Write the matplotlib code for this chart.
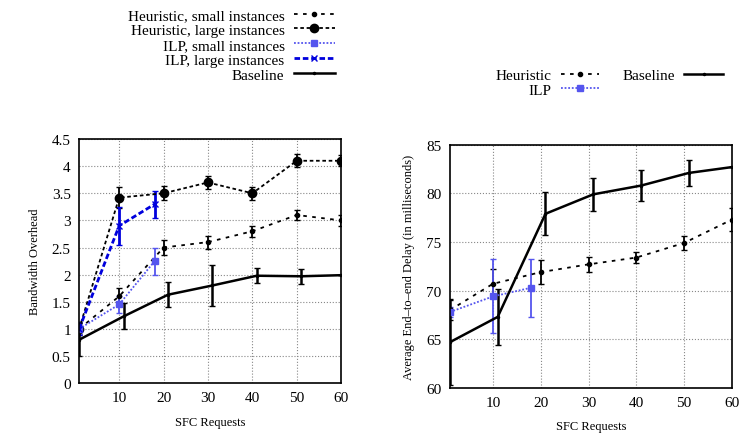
import matplotlib
matplotlib.use("Agg")
import matplotlib.pyplot as plt
from matplotlib.lines import Line2D

plt.rcParams['font.family'] = ['Liberation Serif', 'DejaVu Serif']

# --- bandwidth overhead (left) ---
bw_heur_x = [1, 10, 20, 30, 40, 50, 60]
bw_heur_small = [1.0, 1.6, 2.5, 2.6, 2.8, 3.1, 3.0]
bw_heur_small_err = [0.1, 0.15, 0.13, 0.12, 0.1, 0.1, 0.1]
bw_heur_large = [1.0, 3.42, 3.5, 3.7, 3.5, 4.1, 4.1]
bw_heur_large_err = [0.12, 0.2, 0.13, 0.12, 0.12, 0.12, 0.1]

bw_ilp_x = [1, 10, 18]
bw_ilp_small = [1.0, 1.45, 2.25]
bw_ilp_small_err = [0.1, 0.15, 0.25]
bw_ilp_large = [1.0, 2.9, 3.3]
bw_ilp_large_err = [0.12, 0.35, 0.25]

bw_base_x = [1, 11, 21, 31, 41, 51, 60]
bw_base = [0.8, 1.23, 1.63, 1.8, 1.98, 1.97, 1.99]
bw_base_err = [0.3, 0.24, 0.23, 0.37, 0.14, 0.14, 0.0]

# --- end-to-end delay (right) ---
d_heur_x = [1, 10, 20, 30, 40, 50, 60]
d_heur = [68.0, 70.7, 71.9, 72.7, 73.4, 74.9, 77.3]
d_heur_err = [1.0, 1.5, 1.2, 0.8, 0.6, 0.7, 1.2]

d_ilp_x = [1, 10, 18]
d_ilp = [67.8, 69.4, 70.3]
d_ilp_err = [0.5, 3.8, 3.0]

d_base_x = [1, 11, 21, 31, 41, 51, 60]
d_base = [64.7, 67.3, 77.9, 79.9, 80.8, 82.1, 82.7]
d_base_err = [4.4, 2.9, 2.2, 1.7, 1.6, 1.3, 0.0]

xticks = [10, 20, 30, 40, 50, 60]

fig = plt.figure(figsize=(7.4, 4.35), dpi=100)
ax1 = fig.add_axes([0.107, 0.117, 0.354, 0.561])
ax2 = fig.add_axes([0.608, 0.106, 0.381, 0.559])

blue = '#0000dd'
light_blue = '#5555ee'

# style for each series: (colour, linestyle, linewidth, marker, markersize)
st_hs = ('black', (0, (2, 3)), 1.3, 'o', 3)
st_hl = ('black', (0, (2, 1.5)), 1.3, 'o', 6)
st_is = (light_blue, (0, (1, 1)), 1.3, 's', 4)
st_il = (blue, (0, (2, 1)), 2, 'x', 5)
st_b = ('black', '-', 1.8, '.', 3)


def draw(ax, x, y, err, st):
    c, ls, lw, m, ms = st
    ax.errorbar(x, y, yerr=err, color=c, ls=ls, lw=lw, marker=m, ms=ms, capsize=2)


def proxy(st, label):
    c, ls, lw, m, ms = st
    return Line2D([], [], color=c, ls=ls, lw=lw, marker=m, ms=ms, label=label)


draw(ax1, bw_heur_x, bw_heur_small, bw_heur_small_err, st_hs)
draw(ax1, bw_heur_x, bw_heur_large, bw_heur_large_err, st_hl)
draw(ax1, bw_ilp_x, bw_ilp_small, bw_ilp_small_err, st_is)
draw(ax1, bw_ilp_x, bw_ilp_large, bw_ilp_large_err, st_il)
draw(ax1, bw_base_x, bw_base, bw_base_err, st_b)

ax1.set_xlim(1, 60)
ax1.set_ylim(0, 4.5)
ax1.set_xticks(xticks)
ax1.set_yticks([0, 0.5, 1, 1.5, 2, 2.5, 3, 3.5, 4, 4.5])
ax1.set_yticklabels(['0', '0.5', '1', '1.5', '2', '2.5', '3', '3.5', '4', '4.5'])
ax1.set_xlabel('SFC Requests', fontsize=9, labelpad=8)
ax1.set_ylabel('Bandwidth Overhead', fontsize=9, labelpad=8)

draw(ax2, d_heur_x, d_heur, d_heur_err, st_hs)
draw(ax2, d_ilp_x, d_ilp, d_ilp_err, st_is)
draw(ax2, d_base_x, d_base, d_base_err, st_b)

ax2.set_xlim(1, 60)
ax2.set_ylim(60, 85)
ax2.set_xticks(xticks)
ax2.set_yticks([60, 65, 70, 75, 80, 85])
ax2.set_xlabel('SFC Requests', fontsize=9, labelpad=8)
ax2.set_ylabel('Average End\u2013to\u2013end Delay (in milliseconds)', fontsize=9, labelpad=8)

for ax in (ax1, ax2):
    ax.grid(True, color='#888888', ls=':', lw=0.8)
    ax.tick_params(labelsize=11, length=0, pad=6)
    for s in ax.spines.values():
        s.set_linewidth(1.2)

left_handles = [proxy(st_hs, 'Heuristic, small instances'),
                proxy(st_hl, 'Heuristic, large instances'),
                proxy(st_is, 'ILP, small instances'),
                proxy(st_il, 'ILP, large instances'),
                proxy(st_b, 'Baseline')]
right_handles = [proxy(st_hs, 'Heuristic'),
                 proxy(st_is, 'ILP'),
                 proxy(st_b, 'Baseline')]

fig.legend(handles=left_handles, loc='upper right',
           bbox_to_anchor=(0.465, 1.0), markerfirst=False, frameon=False,
           fontsize=11, handlelength=2.7, labelspacing=0.08, borderpad=0.1,
           handletextpad=0.6)
fig.legend(handles=right_handles, loc='upper right', ncol=2,
           bbox_to_anchor=(0.993, 0.868), markerfirst=False, frameon=False,
           fontsize=11, handlelength=2.5, labelspacing=0.05, columnspacing=1.55,
           borderpad=0.3, handletextpad=0.6)

fig.savefig('out.png', dpi=100)
